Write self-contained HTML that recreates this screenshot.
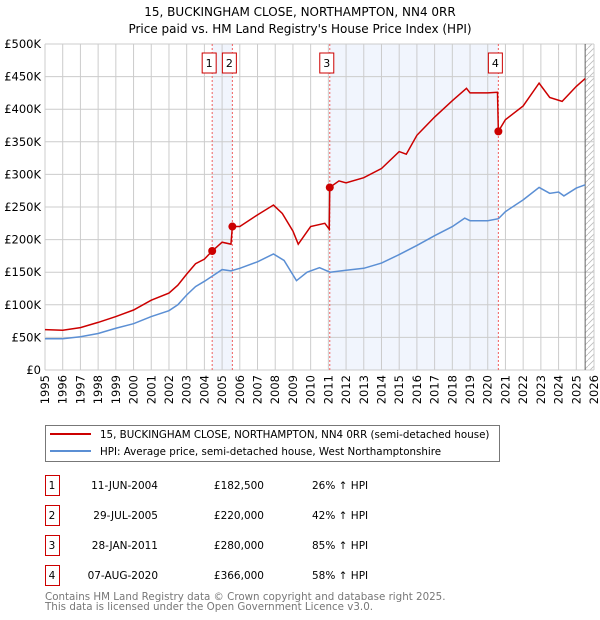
<!DOCTYPE html>
<html><head><meta charset="utf-8"><style>
body{margin:0;background:#fff;}
svg{display:block;font-family:"DejaVu Sans","Liberation Sans",sans-serif;}
</style></head><body>
<svg id="c" width="600" height="620">
<text x="300" y="16" text-anchor="middle" font-size="12">15, BUCKINGHAM CLOSE, NORTHAMPTON, NN4 0RR</text>
<text x="300" y="33" text-anchor="middle" font-size="12">Price paid vs. HM Land Registry's House Price Index (HPI)</text>
<defs><pattern id="h" width="6" height="6" patternUnits="userSpaceOnUse"><path d="M0,6 L6,0" stroke="#bbb" stroke-width="0.8"/></pattern></defs>
<g id="plot"></g>
<g>
<rect x="45.5" y="425.5" width="454" height="36" fill="#fff" stroke="#777"/>
<line x1="50" y1="434" x2="91" y2="434" stroke="#cc0000" stroke-width="2"/>
<text x="100" y="438" font-size="10.3">15, BUCKINGHAM CLOSE, NORTHAMPTON, NN4 0RR (semi-detached house)</text>
<line x1="50" y1="451" x2="91" y2="451" stroke="#5b8fd4" stroke-width="2"/>
<text x="100" y="455" font-size="10.3">HPI: Average price, semi-detached house, West Northamptonshire</text>
</g>
<g id="table" font-size="10.5"></g>
<text x="45" y="600" font-size="10.3" fill="#777">Contains HM Land Registry data © Crown copyright and database right 2025.</text>
<text x="45" y="610" font-size="10.3" fill="#777">This data is licensed under the Open Government Licence v3.0.</text>
</svg>
<script>
const hpiYears=[1995,1996,1997,1998,1999,2000,2001,2002,2002.5,2003,2003.5,2004,2004.5,2005,2005.5,2006,2007,2007.9,2008.5,2009.2,2009.8,2010.5,2011.1,2012,2013,2014,2015,2016,2017,2018,2018.7,2019,2020,2020.6,2021,2022,2022.9,2023.5,2024,2024.3,2025,2025.5];
const hpiValues=[48,48,51,56,64,71,82,91,100,115,128,136,145,154,152,156,166,178,168,137,150,157,150,153,156,164,177,191,206,220,233,229,229,232,243,261,280,271,273,267,279,284];
const propYears=[1995,1996,1997,1998,1999,2000,2001,2002,2002.5,2003,2003.5,2004,2004.44,2005,2005.5,2005.58,2006,2007,2007.9,2008.4,2009,2009.3,2010,2010.8,2011.05,2011.08,2011.6,2012,2013,2014,2015,2015.4,2016,2017,2018,2018.8,2019,2020,2020.55,2020.6,2021,2022,2022.9,2023.5,2024.2,2025,2025.5];
const propValues=[62,61,65,73,82,92,107,118,130,147,163,170,182.5,196,193,220,220,238,253,240,213,193,220,225,216,280,290,287,295,309,335,331,360,388,413,432,425,425,426,366,384,405,440,418,412,435,447];
const saleYears=[2004.44,2005.58,2011.08,2020.6];
const saleValues=[182.5,220,280,366];
const saleLabels=["1","2","3","4"];
const saleDates=["11-JUN-2004","29-JUL-2005","28-JAN-2011","07-AUG-2020"];
const salePrices=["£182,500","£220,000","£280,000","£366,000"];
const saleHpi=["26% ↑ HPI","42% ↑ HPI","85% ↑ HPI","58% ↑ HPI"];
const yTicks=[0,50,100,150,200,250,300,350,400,450,500];
const yTickLabels=["£0","£50K","£100K","£150K","£200K","£250K","£300K","£350K","£400K","£450K","£500K"];
const xTicks=[1995,1996,1997,1998,1999,2000,2001,2002,2003,2004,2005,2006,2007,2008,2009,2010,2011,2012,2013,2014,2015,2016,2017,2018,2019,2020,2021,2022,2023,2024,2025,2026];
const L=45,R=594,T=44,B=370,X0=1995,X1=2026;
const xs=v=>L+(v-X0)/(X1-X0)*(R-L);
const ys=v=>B-v/500*(B-T);
const NS="http://www.w3.org/2000/svg";
const plot=document.getElementById('plot');
function mk(t,a,p){const e=document.createElementNS(NS,t);for(const k in a)e.setAttribute(k,a[k]);(p||plot).appendChild(e);return e;}
let s=mk('rect',{x:xs(saleYears[0]),y:T,width:xs(saleYears[1])-xs(saleYears[0]),height:B-T,fill:'#eef3fc',opacity:0.8});


s=mk('rect',{x:xs(saleYears[2]),y:T,width:xs(saleYears[3])-xs(saleYears[2]),height:B-T,fill:'#eef3fc',opacity:0.8});


s=mk('rect',{x:xs(2025.5),y:T,width:R-xs(2025.5),height:B-T,fill:'url(#h)'});


xTicks.forEach(v=>{const g=mk('line',{x1:xs(v),x2:xs(v),y1:T,y2:B,stroke:'#cccccc'});


const t=mk('text',{x:0,y:0,'font-size':11.5,'text-anchor':'end',transform:`translate(${xs(v)+4},${B+5}) rotate(-90)`});t.textContent=v;

});
yTicks.forEach((v,i)=>{const g=mk('line',{x1:L,x2:R,y1:ys(v),y2:ys(v),stroke:'#cccccc'});


const t=mk('text',{x:L-4,y:ys(v)+4,'font-size':11.5,'text-anchor':'end'});t.textContent=yTickLabels[i];

});
const nl=mk('line',{x1:xs(2025.5),x2:xs(2025.5),y1:T,y2:B,stroke:'#666'});


saleYears.forEach((v,i)=>{const l=mk('line',{x1:xs(v),x2:xs(v),y1:T,y2:B,stroke:'#f06060','stroke-dasharray':'2,2'});


const r=mk('rect',{x:xs(v)-10,y:53,width:14,height:20,fill:'#fff',stroke:'#cc0000'});


const t=mk('text',{x:xs(v)-3,y:67,'font-size':11,'text-anchor':'middle'});t.textContent=saleLabels[i];

});
const hp=mk('polyline',{points:hpiYears.map((y,i)=>xs(y)+','+ys(hpiValues[i])).join(' '),fill:'none',stroke:'#5b8fd4','stroke-width':1.5});


const pp=mk('polyline',{points:propYears.map((y,i)=>xs(y)+','+ys(propValues[i])).join(' '),fill:'none',stroke:'#cc0000','stroke-width':1.5});


saleYears.forEach((v,i)=>{const c=mk('circle',{cx:xs(v),cy:ys(saleValues[i]),r:4,fill:'#cc0000'});

});
const tb=document.getElementById('table');
saleLabels.forEach((lab,i)=>{const y=485+i*30;
const r=mk('rect',{x:45.5,y:y-9.5,width:14,height:20,fill:'#fff',stroke:'#cc0000'},tb);


const cells=[[52,lab,'middle'],[158,saleDates[i],'end'],[264,salePrices[i],'end'],[312,saleHpi[i],'start']];
cells.forEach(c=>{const t=mk('text',{x:c[0],y:y+4,'text-anchor':c[2]},tb);t.textContent=c[1];

});});
</script>
</body></html>
